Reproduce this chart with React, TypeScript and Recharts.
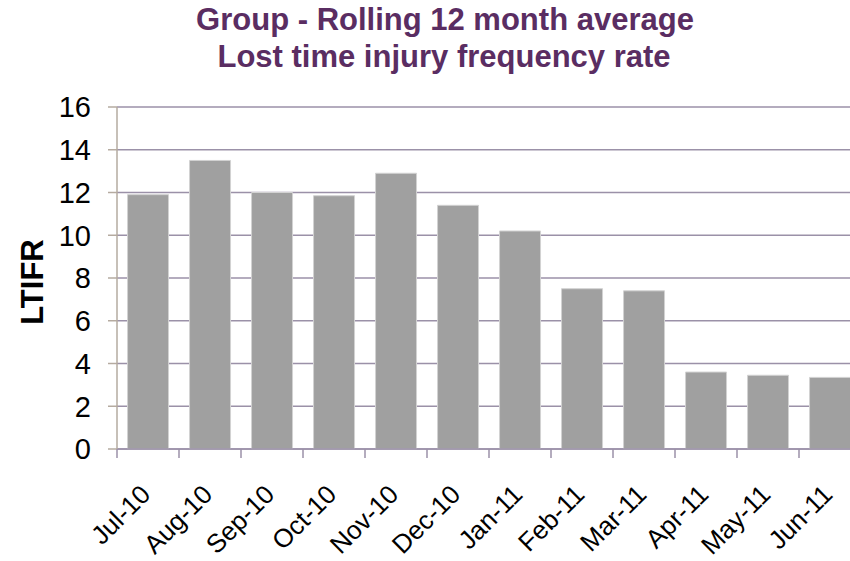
import React from 'react';
import { BarChart, Bar, XAxis, YAxis, CartesianGrid } from 'recharts';

const months = ['Jul-10', 'Aug-10', 'Sep-10', 'Oct-10', 'Nov-10', 'Dec-10', 'Jan-11', 'Feb-11', 'Mar-11', 'Apr-11', 'May-11', 'Jun-11'];
const ltifr = [11.9, 13.5, 12.0, 11.85, 12.9, 11.4, 10.2, 7.5, 7.4, 3.6, 3.45, 3.35];
const yTicks = [0, 2, 4, 6, 8, 10, 12, 14, 16];

const data = months.map((m, i) => ({ month: m, ltifr: ltifr[i] }));

const CHART_W = 870;
const CHART_H = 561;
const MARGIN = { top: 107, right: 9, bottom: 0, left: 0 };
const Y_W = 117;
const X_H = 112;
const AXIS_Y = CHART_H - X_H;
const BAND = (CHART_W - Y_W - MARGIN.right) / months.length;

const GRID = '#9b91a8';
const TAN = '#b5aba0';
const PURPLE = '#5a2d62';
const FONT = '"Liberation Sans", Arial, sans-serif';

// x labels are rotated, and ticks sit between the categories like in Excel
const MonthTick = (props: any) => {
  const { x, payload } = props;
  const bx = x - BAND / 2;
  const tx = x + 4;
  const ty = AXIS_Y + 47;
  return (
    <g>
      <line x1={bx} x2={bx} y1={AXIS_Y} y2={AXIS_Y + 9} stroke={GRID} strokeWidth={1.5} />
      <text x={tx} y={ty} transform={`rotate(-45, ${tx}, ${ty})`} textAnchor="end" fontSize={26} fontFamily={FONT} fill="#000">
        {payload.value}
      </text>
    </g>
  );
};

export default function App() {
  return (
    <div style={{ position: 'fixed', left: 0, top: 0, width: 850, height: 561, overflow: 'hidden', background: '#fff' }}>
      <BarChart width={CHART_W} height={CHART_H} data={data} margin={MARGIN} barCategoryGap="17%">
        <CartesianGrid vertical={false} stroke={GRID} strokeWidth={1.5} />
        <XAxis
          dataKey="month"
          height={X_H}
          interval={0}
          tickLine={false}
          axisLine={{ stroke: GRID, strokeWidth: 1.5 }}
          tick={<MonthTick />}
        />
        <YAxis
          domain={[0, 16]}
          ticks={yTicks}
          width={Y_W}
          tickSize={9}
          tickMargin={17}
          axisLine={{ stroke: TAN, strokeWidth: 1.5 }}
          tickLine={{ stroke: TAN, strokeWidth: 1.5 }}
          tick={{ fontSize: 29, fill: '#000', fontFamily: FONT }}
        />
        <Bar dataKey="ltifr" fill="#a0a0a0" stroke="#d2d2d2" strokeWidth={1} isAnimationActive={false} />
      </BarChart>
      <svg width={850} height={561} style={{ position: 'absolute', left: 0, top: 0, pointerEvents: 'none' }}>
        <text x={445} y={30} textAnchor="middle" fontSize={31} fontWeight="bold" fontFamily={FONT} fill={PURPLE}>
          Group - Rolling 12 month average
        </text>
        <text x={444} y={67} textAnchor="middle" fontSize={31} fontWeight="bold" fontFamily={FONT} fill={PURPLE}>
          Lost time injury frequency rate
        </text>
        <text x={43} y={282} transform="rotate(-90, 43, 282)" textAnchor="middle" fontSize={31} fontWeight="bold" fontFamily={FONT} fill="#000">
          LTIFR
        </text>
      </svg>
    </div>
  );
}
